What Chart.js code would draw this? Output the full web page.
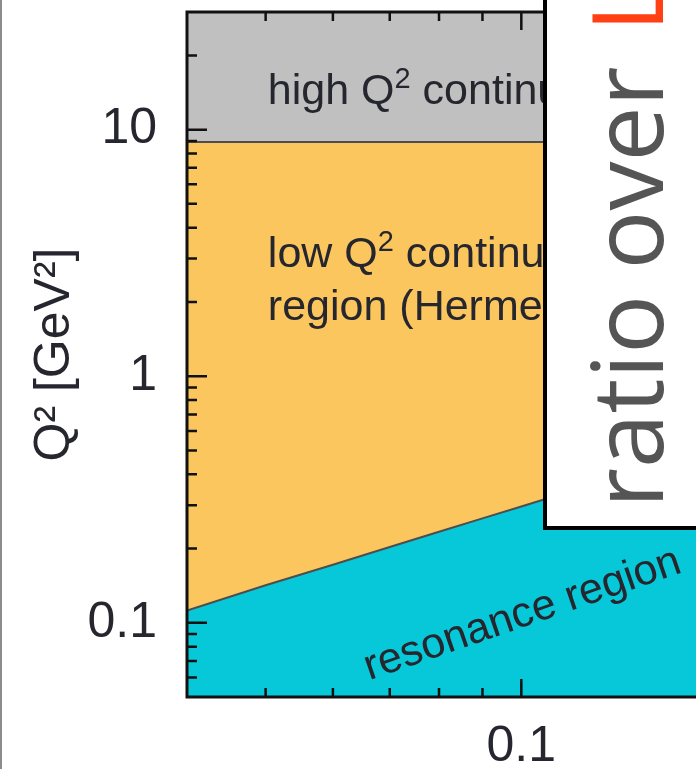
<!DOCTYPE html>
<html>
<head>
<meta charset="utf-8">
<script src="https://cdn.jsdelivr.net/npm/chart.js@4.4.1/dist/chart.umd.min.js"></script>
<style>
  html, body { margin: 0; padding: 0; background: #fff; overflow: hidden; }
  #wrap { position: relative; width: 696px; height: 769px; overflow: hidden; }
  #wrap::before { content: ''; position: absolute; left: 0; top: 0; bottom: 0; width: 2px; background: #8c8c8c; z-index: 3; }
  #chart { position: absolute; left: 0; top: 0; }
  #overlay {
    position: absolute; left: 543px; top: -10px; width: 220px; height: 540px;
    box-sizing: border-box; background: #fff; border: 4px solid #000; z-index: 2;
  }
  #overlay .rot {
    position: absolute; left: 29px; top: 514px; width: 800px;
    transform-origin: 0 0; transform: rotate(-90deg);
    white-space: nowrap; font: 98px 'Open Sans', sans-serif; line-height: 1;
    color: #555;
  }
  #overlay .rot .hl { color: #ff4014; margin-left: 9px; }
</style>
</head>
<body>
<div id="wrap">
  <canvas id="chart" width="800" height="769"></canvas>
  <div id="overlay"><div class="rot">ratio over <span class="hl">L</span></div></div>
</div>
<script>
// axis ranges
const xMin = 0.0404, xMax = 0.2;
const yMin = 0.05, yMax = 30;

// resonance region boundary
const resonanceX = [0.0404, 0.05, 0.06, 0.07, 0.08, 0.09, 0.1, 0.12, 0.15, 0.2];
const resonanceQ2 = [0.112, 0.142, 0.172, 0.203, 0.234, 0.265, 0.296, 0.36, 0.46, 0.63];

// high / low Q2 continuum split
const cutX = [0.0404, 0.2];
const cutQ2 = [8.9, 8.9];

// tick positions and labels
const xTickValues = [0.05, 0.06, 0.07, 0.08, 0.09, 0.1, 0.2];
const xLabelValues = [0.1];
const xLabelTexts = ['0.1'];
const yTickValues = [0.06, 0.07, 0.08, 0.09, 0.1, 0.2, 0.3, 0.4, 0.5, 0.6, 0.7, 0.8, 0.9,
  1, 2, 3, 4, 5, 6, 7, 8, 9, 10, 20];
const yLabelValues = [0.1, 1, 10];
const yLabelTexts = ['0.1', '1', '10'];

// region captions, anchored in data coordinates
const captions = [
  { x: 0.0503, y: 12.7, rot: 0, parts: [['high Q'], ['2', true], [' continuum region']] },
  { x: 0.0503, y: 2.76, rot: 0, parts: [['low Q'], ['2', true], [' continuum']] },
  { x: 0.0503, y: 1.69, rot: 0, parts: [['region (Hermes)']] },
  { x: 0.0662, y: 0.0585, rot: -19, parts: [['resonance region']] },
];

const COLORS = {
  high: '#c0c0c0',
  low: '#fcc65f',
  resonance: '#06c8d8',
  edge: '#4d4d4d',
  frame: '#111',
  text: '#26262e',
};

const toPoints = (xs, ys) => xs.map((x, i) => ({ x, y: ys[i] }));
const isMajor = v => Math.abs(Math.log10(v) - Math.round(Math.log10(v))) < 1e-9;
const labelFor = (values, texts) => v => {
  const i = values.findIndex(t => Math.abs(t - v) < 1e-9);
  return i >= 0 ? texts[i] : '';
};

const captionPlugin = {
  id: 'captions',
  afterDatasetsDraw(chart) {
    const { ctx, scales: { x, y } } = chart;
    ctx.save();
    ctx.beginPath();
    ctx.rect(chart.chartArea.left, chart.chartArea.top, chart.chartArea.width, chart.chartArea.height);
    ctx.clip();
    ctx.fillStyle = COLORS.text;
    ctx.textBaseline = 'alphabetic';
    ctx.textAlign = 'left';
    captions.forEach(c => {
      ctx.save();
      ctx.translate(x.getPixelForValue(c.x), y.getPixelForValue(c.y));
      ctx.rotate(c.rot * Math.PI / 180);
      let cx = 0;
      c.parts.forEach(([t, sup]) => {
        ctx.font = sup ? '29px "Liberation Sans"' : '43px "Liberation Sans"';
        ctx.fillText(t, cx, sup ? -16 : 0);
        cx += ctx.measureText(t).width;
      });
      ctx.restore();
    });
    ctx.restore();
  },
};

const framePlugin = {
  id: 'frame',
  afterDraw(chart) {
    const { ctx, chartArea: a, scales: { x, y } } = chart;
    ctx.save();
    ctx.strokeStyle = COLORS.frame;
    ctx.lineWidth = 2.5;
    ctx.beginPath();
    y.ticks.forEach(t => {
      const py = y.getPixelForValue(t.value);
      const len = isMajor(t.value) ? 20 : 10;
      ctx.moveTo(a.left, py); ctx.lineTo(a.left + len, py);
      ctx.moveTo(a.right, py); ctx.lineTo(a.right - len, py);
    });
    x.ticks.forEach(t => {
      const px = x.getPixelForValue(t.value);
      const len = isMajor(t.value) ? 18 : 9;
      ctx.moveTo(px, a.bottom); ctx.lineTo(px, a.bottom - len);
      ctx.moveTo(px, a.top); ctx.lineTo(px, a.top + len);
    });
    ctx.stroke();
    ctx.lineWidth = 3;
    ctx.strokeRect(a.left, a.top, a.width, a.height);
    ctx.restore();
  },
};

new Chart(document.getElementById('chart'), {
  type: 'line',
  data: {
    datasets: [
      {
        label: 'resonance region',
        data: toPoints(resonanceX, resonanceQ2),
        borderColor: COLORS.edge,
        borderWidth: 2,
        backgroundColor: COLORS.resonance,
        fill: 'start',
        pointRadius: 0,
        tension: 0,
      },
      {
        label: 'low Q2 continuum',
        data: toPoints(cutX, cutQ2),
        borderColor: COLORS.edge,
        borderWidth: 2,
        backgroundColor: COLORS.low,
        fill: { target: 0 },
        pointRadius: 0,
        tension: 0,
      },
      {
        label: 'high Q2 continuum',
        data: toPoints(cutX, cutQ2),
        borderWidth: 0,
        borderColor: 'rgba(0,0,0,0)',
        backgroundColor: COLORS.high,
        fill: 'end',
        pointRadius: 0,
        tension: 0,
      },
    ],
  },
  options: {
    responsive: false,
    animation: false,
    devicePixelRatio: 1,
    layout: { padding: { top: 12, right: 23, left: 0, bottom: 0 } },
    plugins: { legend: { display: false }, tooltip: { enabled: false } },
    scales: {
      x: {
        type: 'logarithmic',
        min: xMin,
        max: xMax,
        grid: { display: false, drawTicks: false },
        border: { display: false },
        afterBuildTicks: s => { s.ticks = xTickValues.map(v => ({ value: v })); },
        afterFit: s => { s.height = 72; s.paddingLeft = 0; s.paddingRight = 0; },
        ticks: {
          autoSkip: false,
          maxRotation: 0,
          padding: 20,
          color: COLORS.text,
          font: { family: 'Liberation Sans', size: 50 },
          major: { enabled: false },
          callback: labelFor(xLabelValues, xLabelTexts),
        },
      },
      y: {
        type: 'logarithmic',
        min: yMin,
        max: yMax,
        grid: { display: false, drawTicks: false },
        border: { display: false },
        afterBuildTicks: s => { s.ticks = yTickValues.map(v => ({ value: v })); },
        afterFit: s => { s.width = 187; s.paddingTop = 0; s.paddingBottom = 0; },
        title: {
          display: true,
          text: 'Q² [GeV²]',
          color: COLORS.text,
          font: { family: 'Liberation Sans', size: 50, lineHeight: 1 },
          padding: { top: 30, bottom: 0 },
        },
        ticks: {
          autoSkip: false,
          padding: 30,
          color: COLORS.text,
          font: { family: 'Liberation Sans', size: 50 },
          major: { enabled: false },
          callback: labelFor(yLabelValues, yLabelTexts),
        },
      },
    },
  },
  plugins: [captionPlugin, framePlugin],
});
</script>
</body>
</html>
